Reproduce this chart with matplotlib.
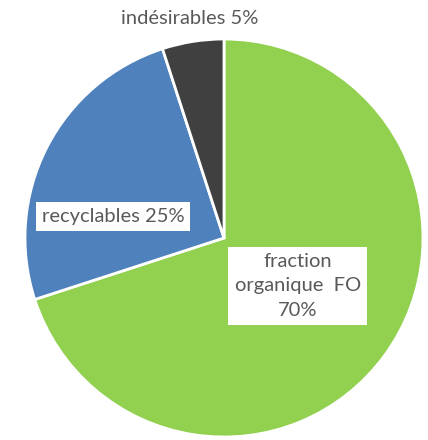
import matplotlib.pyplot as plt

labels = ['fraction\norganique  FO\n70%', 'recyclables 25%', 'indésirables 5%']
values = [70, 25, 5]
colors = ['#92D050', '#4F81BD', '#404040']

plt.rcParams['font.family'] = ['Lato', 'DejaVu Sans']

fig = plt.figure(figsize=(4.28, 4.40), dpi=100)
ax = fig.add_axes([25 / 428, (440 - 238 - 199) / 440, 398 / 428, 398 / 440])

ax.pie(values, colors=colors, startangle=90, counterclock=False,
       wedgeprops=dict(edgecolor='white', linewidth=2))
ax.set_xlim(-1, 1)
ax.set_ylim(-1, 1)
ax.set_aspect('equal')

txt = dict(color='#595959', fontsize=14.5, ha='center', va='center')
ax.text(0.37, -0.24, labels[0], linespacing=1.55,
        bbox=dict(facecolor='white', edgecolor='none', boxstyle='square,pad=0.3'), **txt)
ax.text(-0.558, 0.11, labels[1],
        bbox=dict(facecolor='white', edgecolor='none', boxstyle='square,pad=0.3'), **txt)
ax.text(-0.17, 1.105, labels[2], clip_on=False, **txt)

fig.savefig('out.png', dpi=100)
